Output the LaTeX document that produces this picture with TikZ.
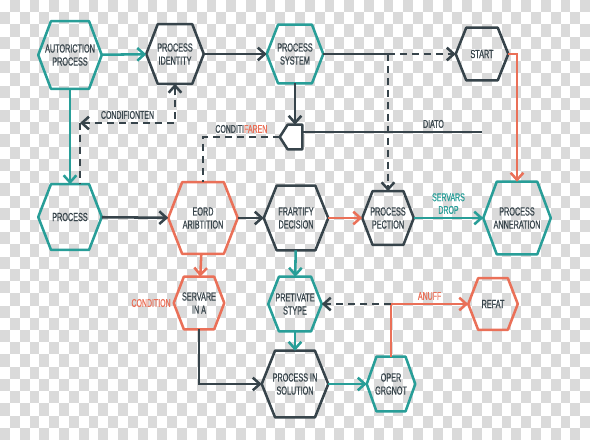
\documentclass[tikz,border=0pt]{standalone}
\usepackage{fontspec}
\setmainfont{Liberation Sans}[FakeStretch=0.62, FakeBold=0.6]
\usetikzlibrary{arrows.meta,calc}

\definecolor{flowteal}{RGB}{40,158,152}
\definecolor{flowdark}{RGB}{55,68,75}
\definecolor{flowred}{RGB}{234,112,88}
\definecolor{checkgray}{RGB}{218,218,218}

\newcommand{\px}{0.025cm}

\tikzset{
  hexa/.style 2 args={minimum width=#1*\px, minimum height=#2*\px, inner sep=0pt,
    align=center, text=flowdark, font=\fontsize{8.3}{9.3}\selectfont},
  hexline/.style={line width=1.8pt, line join=round},
  link/.style={line width=1.8pt, -{Straight Barb[length=5pt,width=9pt]}},
  dashlink/.style={link, dash pattern=on 5pt off 3.5pt},
  lbl/.style={font=\fontsize{8}{9}\selectfont, text=flowdark, inner sep=2pt, align=center}
}

\begin{document}
\begin{tikzpicture}[x=0.025cm, y=-0.025cm]
\useasboundingbox (0,0) rectangle (590,440);
% background squares
\fill[white] (0,0) rectangle (590,440);
\foreach \i in {0,...,59}
  \foreach \j in {0,...,35}
    {\ifodd\numexpr\i+\j\relax
      \fill[checkgray] (\i*9.8333, \j*12.2222) rectangle ++(9.8333, 12.2222);
    \fi}

% nodes
\node[hexa={63}{67}] (autor) at (70,55) {AUTORICTION\\PROCESS};
\node[hexa={57}{59}] (ident) at (175,54) {PROCESS\\IDENTITY};
\node[hexa={56}{58}] (system) at (295,54) {PROCESS\\SYSTEM};
\node[hexa={52}{52}] (start) at (482,54) {START};
\node[hexa={22}{24}] (gate) at (291,137) {};
\node[hexa={63}{65}] (proc) at (70,217) {PROCESS};
\node[hexa={69}{71}] (eord) at (203,218) {EORD\\ARIBTITION};
\node[hexa={64}{64}] (frart) at (296,218) {FRARTIFY\\DECISION};
\node[hexa={51}{53}] (pection) at (388,218) {PROCESS\\PECTION};
\node[hexa={67}{72}] (anner) at (517,218) {PROCESS\\ANNERATION};
\node[hexa={50}{52}] (servare) at (199,303) {SERVARE\\IN A};
\node[hexa={53}{54}] (pretiv) at (295,304) {PRETIVATE\\STYPE};
\node[hexa={49}{51}] (refat) at (493,304) {REFAT};
\node[hexa={66}{66}] (solution) at (295,384) {PROCESS IN\\SOLUTION};
\node[hexa={48}{54}] (oper) at (391,384) {OPER\\GRGNOT};

% hexagon outlines
\foreach \n/\c in {autor/flowteal, ident/flowdark, system/flowteal, start/flowdark,
    proc/flowteal, eord/flowred, frart/flowdark, pection/flowdark, anner/flowteal,
    servare/flowred, pretiv/flowteal, refat/flowred, solution/flowdark, oper/flowteal}
  \draw[hexline, draw=\c] (\n.west) -- ($(\n.north west)!.2!(\n.north east)$)
    -- ($(\n.north west)!.8!(\n.north east)$) -- (\n.east)
    -- ($(\n.south west)!.8!(\n.south east)$) -- ($(\n.south west)!.2!(\n.south east)$) -- cycle;
\filldraw[hexline, draw=flowdark, fill=white] (gate.west) -- ($(gate.north west)!.35!(gate.north east)$)
  -- (gate.north east) -- (gate.south east) -- ($(gate.south west)!.35!(gate.south east)$) -- cycle;

% top row
\draw[link, flowteal] (autor) -- (ident);
\draw[link, flowdark] (ident) -- (system);
\coordinate (fork) at (pection.north |- system.east);
\draw[line width=1.8pt, flowdark] (system.east) -- (fork);
\draw[dashlink, flowdark] (fork) -- (start.west);
\draw[dashlink, flowdark] (fork) -- (pection.north);
\draw[link, flowred] (start.east) -| (anner.north);

% gate and its lines
\draw[link, flowdark] (system.south) -- (system.south |- gate.north);
\coordinate (diatoend) at (482,132);
\draw[line width=1.8pt, flowdark] (diatoend -| gate.east) -- (diatoend) node[lbl, pos=.73, above] {DIATO};
\draw[line width=1.8pt, flowdark, dash pattern=on 5pt off 3.5pt] (gate.west) -| (eord.north)
  node[lbl, pos=.25, above] {CONDITI{\color{flowred}FAREN}};

% left column
\draw[link, flowteal] (autor) -- (proc);
\coordinate (bend) at (80,123);
\draw[dashlink, flowdark, {Straight Barb[length=5pt,width=9pt]}-{Straight Barb[length=5pt,width=9pt]}]
  (bend) -- (bend -| ident.south) node[lbl, midway, above] {CONDIFIONTEN} -- (ident.south);
\draw[line width=1.8pt, flowdark, dash pattern=on 5pt off 3.5pt] (bend) -- (bend |- proc.north);

% middle row
\draw[link, flowdark] (proc) -- (eord);
\draw[link, flowdark] (eord) -- (frart);
\draw[link, flowred] (frart) -- (pection);
\draw[link, flowteal] (pection) -- (anner) node[lbl, midway, above, text=flowteal] {SERVARS\\DROP};

% lower part
\draw[link, flowred] (eord) -- (servare);
\node[lbl, text=flowred, left] (condlbl) at (servare.west) {CONDITION};
\draw[link, flowteal] (frart) -- (pretiv);
\draw[link, flowdark] (servare.south) |- (solution.west);
\draw[link, flowteal] (pretiv) -- (solution);
\draw[link, flowteal] (solution) -- (oper);
\coordinate (knee) at (oper.north |- refat.west);
\draw[link, flowred] (oper.north) -- (knee) -- (refat.west) node[lbl, midway, above, text=flowred] {ANUFF};
\draw[dashlink, flowdark] (knee) -- (pretiv.east);
\end{tikzpicture}
\end{document}
